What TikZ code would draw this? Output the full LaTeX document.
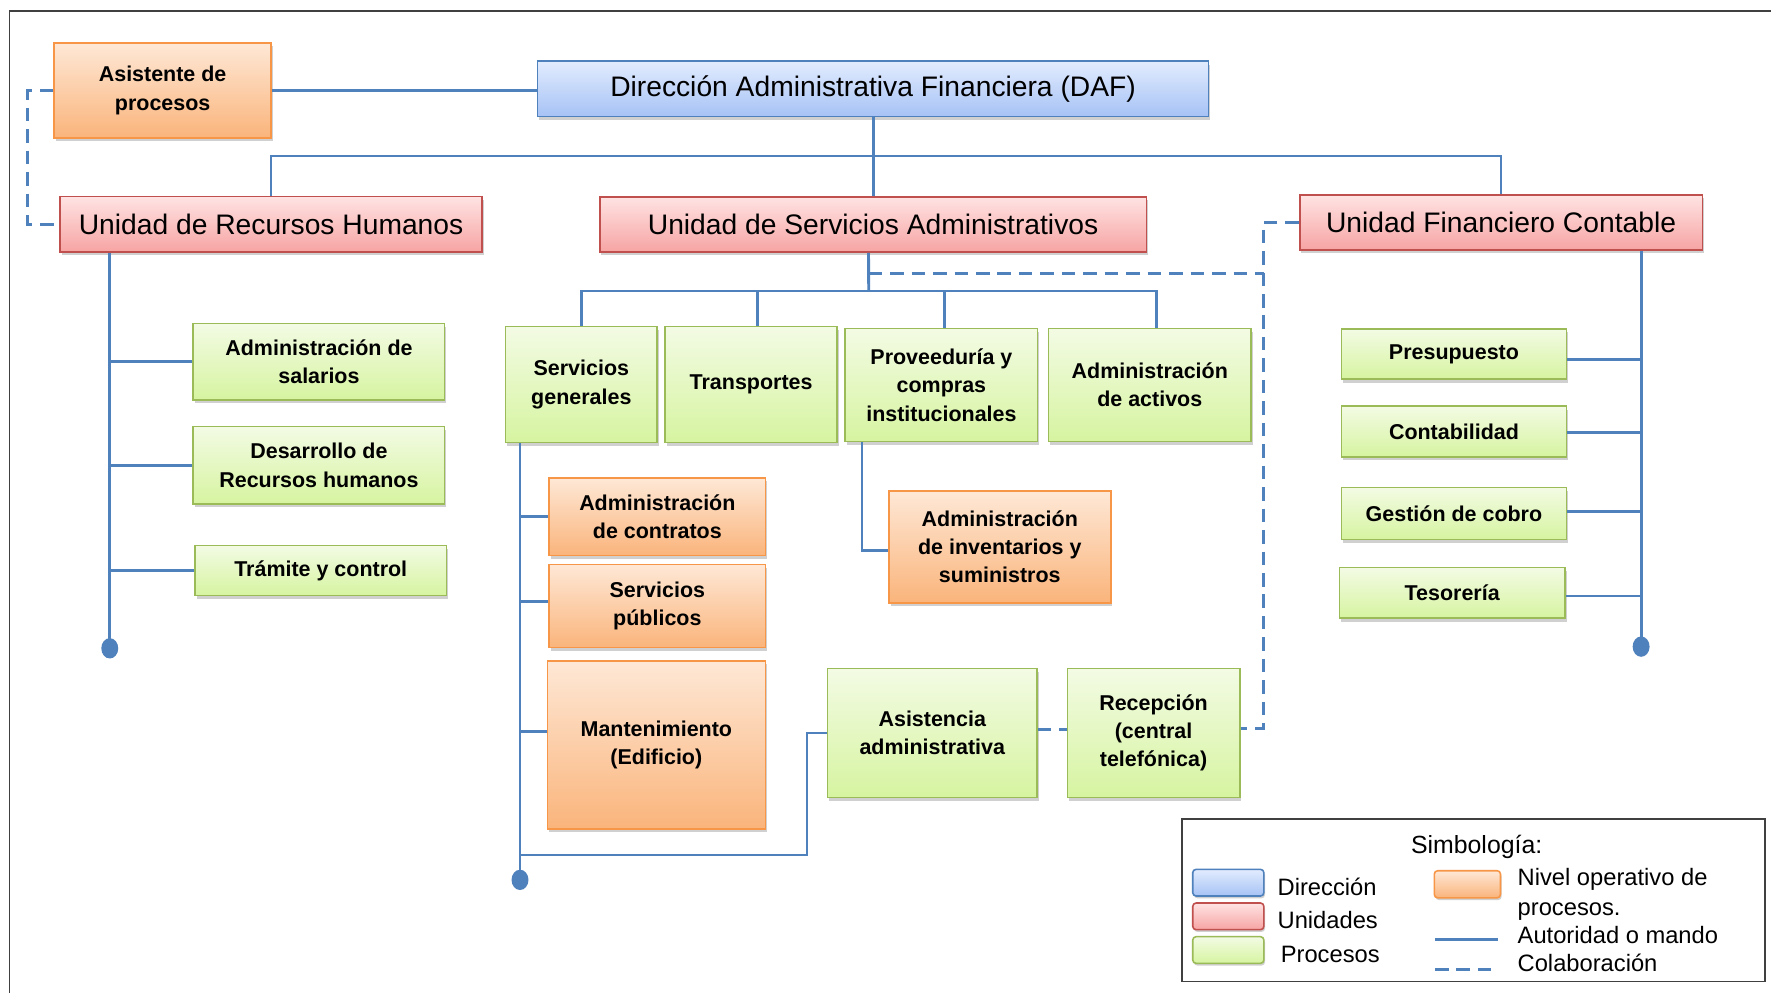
\documentclass[tikz,border=0pt]{standalone}
\usepackage{fontspec}
\setmainfont{Liberation Sans}
\usetikzlibrary{shadows}
\definecolor{conncol}{HTML}{4F81BD}
\definecolor{bluebd}{HTML}{4F81BD}
\definecolor{bluetop}{HTML}{E2ECFE}
\definecolor{bluebot}{HTML}{A6C2F5}
\definecolor{redbd}{HTML}{C0504D}
\definecolor{redtop}{HTML}{FFE3E3}
\definecolor{redbot}{HTML}{F6A4A3}
\definecolor{greenbd}{HTML}{9BBB59}
\definecolor{greentop}{HTML}{F3FBE4}
\definecolor{greenbot}{HTML}{D6F4A0}
\definecolor{orangebd}{HTML}{F79646}
\definecolor{orangetop}{HTML}{FEE8D6}
\definecolor{orangebot}{HTML}{FAB47B}
\definecolor{framecol}{HTML}{404040}
\begin{document}
\begin{tikzpicture}[x=1pt,y=-1pt,
  conn/.style={draw=conncol,line width=2.5pt},
  collab/.style={draw=conncol,line width=2.5pt,dash pattern=on 12pt off 7pt},
  basebox/.style={rectangle,inner sep=0pt,align=center,line width=1.4pt,
    drop shadow={shadow xshift=1.5pt,shadow yshift=-3pt,opacity=0.3,fill=black!60}},
  dirbox/.style={basebox,draw=bluebd,top color=bluetop,bottom color=bluebot,
    font=\fontsize{25}{30}\selectfont},
  unitbox/.style={basebox,draw=redbd,top color=redtop,bottom color=redbot,
    font=\fontsize{25}{30}\selectfont},
  procbox/.style={basebox,draw=greenbd,top color=greentop,bottom color=greenbot,
    font=\bfseries\fontsize{19}{25}\selectfont},
  operbox/.style={basebox,draw=orangebd,top color=orangetop,bottom color=orangebot,
    font=\bfseries\fontsize{19}{25}\selectfont},
  legsw/.style={rectangle,rounded corners=3pt,inner sep=0pt,line width=1.4pt,
    minimum width=63pt,minimum height=23.6pt,
    drop shadow={shadow xshift=1pt,shadow yshift=-2pt,opacity=0.3,fill=black!60}},
  legtext/.style={anchor=west,inner sep=0pt,align=left,font=\fontsize{21}{26.8}\selectfont},
  endpt/.style={fill=conncol}
]
\useasboundingbox (0,0) rectangle (1568,879);
\fill[white] (0,0) rectangle (1568,879);
\draw[framecol,line width=1.5pt] (8.5,879) -- (8.5,9.7) -- (1568,9.7);

% Boxes
\node[operbox,minimum width=192pt,minimum height=84pt] (asis) at (144,80) {Asistente de\\procesos};
\node[dirbox,minimum width=594pt,minimum height=49pt] (daf) at (773,78.7) {Dirección Administrativa Financiera (DAF)};
\node[unitbox,minimum width=374pt,minimum height=49pt] (urh) at (240,198.5) {Unidad de Recursos Humanos};
\node[unitbox,minimum width=484pt,minimum height=49pt] (usa) at (773,198.7) {Unidad de Servicios Administrativos};
\node[unitbox,minimum width=356.5pt,minimum height=48.7pt] (ufc) at (1329,197) {Unidad Financiero Contable};

\node[procbox,minimum width=222.6pt,minimum height=67.8pt] (sal) at (282.4,320.2) {Administración de\\salarios};
\node[procbox,minimum width=222.6pt,minimum height=68.5pt] (des) at (282.4,412) {Desarrollo de\\Recursos humanos};
\node[procbox,minimum width=222.6pt,minimum height=44.3pt] (tra) at (284,505.2) {Trámite y control};

\node[procbox,minimum width=134pt,minimum height=102.7pt] (sg) at (514.7,340.5) {Servicios\\generales};
\node[procbox,minimum width=152.4pt,minimum height=102.7pt] (tr) at (665,340.5) {Transportes};
\node[procbox,minimum width=170.3pt,minimum height=100.3pt] (prov) at (833.5,340.9) {Proveeduría y\\compras\\institucionales};
\node[procbox,minimum width=179.2pt,minimum height=100.3pt] (act) at (1018,340.9) {Administración\\de activos};

\node[operbox,minimum width=191.4pt,minimum height=69pt] (con) at (582,457.5) {Administración\\de contratos};
\node[operbox,minimum width=191.4pt,minimum height=73.8pt] (pub) at (582,536.5) {Servicios\\públicos};
\node[operbox,minimum width=193pt,minimum height=149pt] (man) at (581.1,659.5) {Mantenimiento\\(Edificio)};
\node[operbox,minimum width=196.4pt,minimum height=98.9pt] (inv) at (885.2,484.2) {Administración\\de inventarios y\\suministros};

\node[procbox,minimum width=185.5pt,minimum height=114.5pt] (asist) at (825.4,649) {Asistencia\\administrativa};
\node[procbox,minimum width=152.6pt,minimum height=114.5pt] (rec) at (1021.3,649) {Recepción\\(central\\telefónica)};

\node[procbox,minimum width=199.5pt,minimum height=44.5pt] (pre) at (1287.3,313.5) {Presupuesto};
\node[procbox,minimum width=199.5pt,minimum height=44.8pt] (cont) at (1287.3,382) {Contabilidad};
\node[procbox,minimum width=199.5pt,minimum height=46pt] (ges) at (1287.3,454.5) {Gestión de cobro};
\node[procbox,minimum width=199.8pt,minimum height=44.8pt] (tes) at (1285.7,525) {Tesorería};

% Top connectors
\coordinate (topbus) at (772,138.1);
\draw[conn] (asis.east) -- (asis.east -| daf.west);
\draw[conn] (daf.south) -- (usa.north);
\draw[conn] (urh.north) |- (topbus) -| (ufc.north);
\draw[collab] (asis.west) -- ++(-22.6,0) |- (urh.west);

% URH branch
\coordinate (urhEnd) at (97.2,574);
\draw[conn] (urhEnd |- urh.south) -- (urhEnd);
\draw[conn] (sal.west) -- (sal.west -| urhEnd);
\draw[conn] (des.west) -- (des.west -| urhEnd);
\draw[conn] (tra.west) -- (tra.west -| urhEnd);
\fill[endpt] (urhEnd) ellipse (7.5pt and 9pt);

% USA bus
\coordinate (bus) at (769.1,257.6);
\coordinate (dashJ) at (1119,242);
\draw[conn] ([xshift=-4pt]usa.south) -- (bus);
\draw[conn] (sg.north) |- (bus);
\draw[conn] (bus) -| ([xshift=6pt]act.north);
\draw[conn] ([xshift=6pt]tr.north |- bus) -- ([xshift=6pt]tr.north);
\draw[conn] ([xshift=3pt]prov.north |- bus) -- ([xshift=3pt]prov.north);
\draw[collab] (bus |- dashJ) -- (dashJ);
\draw[collab] (ufc.west) -- ++(-31.7,0) |- ([yshift=4pt]rec.east);
\draw[collab] ([yshift=3pt]asist.east) -- ([yshift=3pt]rec.west);

% Servicios generales branch
\coordinate (sgEnd) at (460.4,779);
\coordinate (sgBot) at (460.4,757);
\coordinate (aaCorner) at (714.5,757);
\draw[conn] (sgEnd |- sg.south) -- (sgEnd);
\draw[conn] (con.west) -- (con.west -| sgEnd);
\draw[conn] ([yshift=3.8pt]pub.west) -- ([yshift=3.8pt]pub.west -| sgEnd);
\draw[conn] ([yshift=11.7pt]man.west) -- ([yshift=11.7pt]man.west -| sgEnd);
\draw[conn] (sgBot) -- (aaCorner) |- (asist.west);
\fill[endpt] (sgEnd) ellipse (7.5pt and 9pt);

% Proveeduria branch
\draw[conn] ([xshift=-70.3pt]prov.south) |- ([yshift=-3.3pt]inv.west);

% UFC branch
\coordinate (ufcEnd) at (1453,572.5);
\draw[conn] (ufcEnd |- ufc.south) -- (ufcEnd);
\draw[conn] ([yshift=-4.6pt]pre.east) -- ([yshift=-4.6pt]pre.east -| ufcEnd);
\draw[conn] ([yshift=-1pt]cont.east) -- ([yshift=-1pt]cont.east -| ufcEnd);
\draw[conn] ([yshift=1.5pt]ges.east) -- ([yshift=1.5pt]ges.east -| ufcEnd);
\draw[conn] ([yshift=-2.7pt]tes.east) -- ([yshift=-2.7pt]tes.east -| ufcEnd);
\fill[endpt] (ufcEnd) ellipse (7.5pt and 9pt);

% Legend
\draw[framecol,line width=1.5pt,fill=white] (1046.2,725.1) rectangle (1562.6,869.1);
\node[font=\fontsize{22}{26}\selectfont,inner sep=0pt] (legtitle) at (1307.4,750) {Simbología:};
\node[legsw,draw=bluebd,top color=bluetop,bottom color=bluebot] (lsb) at (1087.5,781.5) {};
\node[legsw,draw=redbd,top color=redtop,bottom color=redbot] (lsr) at (1087.5,811.3) {};
\node[legsw,draw=greenbd,top color=greentop,bottom color=greenbot] (lsg) at (1087.5,841.1) {};
\node[legsw,draw=orangebd,top color=orangetop,bottom color=orangebot,minimum width=58.6pt,minimum height=24pt] (lso) at (1299.2,782.9) {};
\node[legtext] (ltb) at (1131,785) {Dirección};
\node[legtext] (ltr) at (1131,814.5) {Unidades};
\node[legtext] (ltg) at (1133.8,844.6) {Procesos};
\node[legtext] (lto) at (1343.5,791.6) {Nivel operativo de\\procesos.};
\node[legtext] (lta) at (1343.5,827.8) {Autoridad o mando};
\node[legtext] (ltc) at (1343.5,852.9) {Colaboración};
\coordinate (lsa1) at (1270.5,831.6);
\coordinate (lsa2) at (1326.7,831.6);
\coordinate (lsc1) at (1270.5,858.2);
\coordinate (lsc2) at (1326.7,858.2);
\draw[conn] (lsa1) -- (lsa2);
\draw[collab] (lsc1) -- (lsc2);
\end{tikzpicture}
\end{document}
